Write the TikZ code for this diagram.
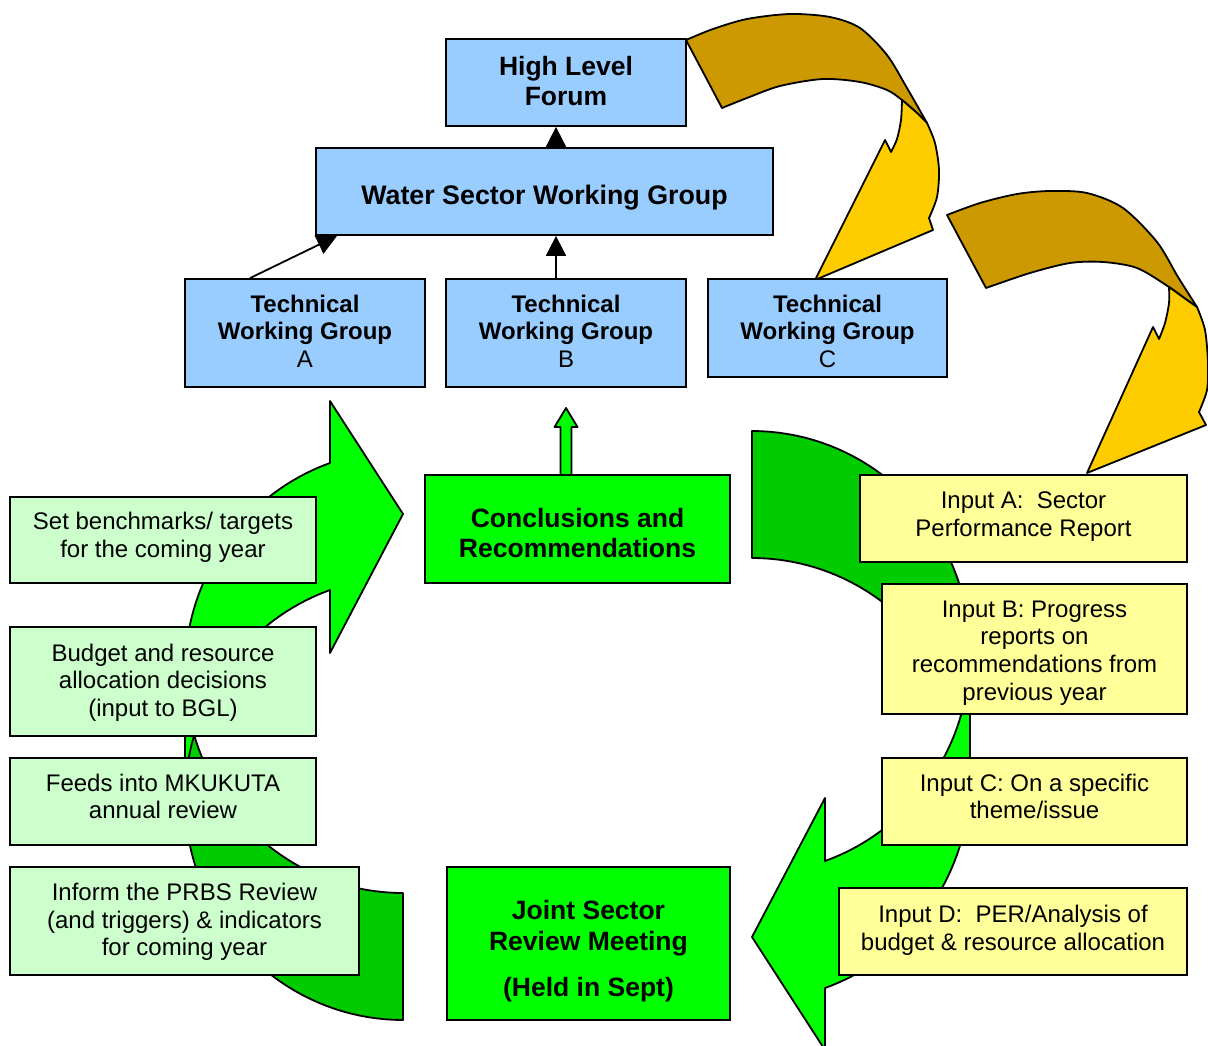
\documentclass[tikz,border=0pt]{standalone}
\usepackage{fontspec}
\setmainfont{Liberation Sans}
\usetikzlibrary{arrows.meta,calc}
\definecolor{boxblue}{HTML}{99CCFF}
\definecolor{brightgreen}{HTML}{00FF00}
\definecolor{darkgreen}{HTML}{00CC00}
\definecolor{palegreen}{HTML}{CCFFCC}
\definecolor{paleyellow}{HTML}{FFFF99}
\definecolor{golddark}{HTML}{CC9900}
\definecolor{goldlight}{HTML}{FFCC00}
\tikzset{
  boxbase/.style={draw=black, line width=1.8pt, inner sep=0pt},
  bluebox/.style={boxbase, fill=boxblue},
  greenbox/.style={boxbase, fill=brightgreen},
  leftbox/.style={boxbase, fill=palegreen},
  inbox/.style={boxbase, fill=paleyellow},
  txt/.style={align=center, inner sep=0pt, text=black, font=\fontsize{24}{27.6}\selectfont},
  bigtxt/.style={align=center, inner sep=0pt, text=black, font=\fontsize{26.5}{30}\selectfont\bfseries},
  twgtxt/.style={align=center, inner sep=0pt, text=black, font=\fontsize{24}{27.5}\selectfont},
  conn/.style={draw=black, line width=1.8pt, -{Triangle[width=20pt,length=20pt]}},
  outl/.style={draw=black, line width=1.8pt, line join=round},
}
\newcommand\curvedgreen{%
  \fill[brightgreen] (185,798.6)
    -- plot[domain=180:250.43,samples=40] ({403+218*cos(\x)},{798.6+221.4*sin(\x)})
    -- (330,653) -- (403,514) -- (330,401) -- (330,463)
    -- plot[domain=250.43:180,samples=40] ({403+218*cos(\x)},{671.6+221.4*sin(\x)})
    -- cycle;
  \fill[darkgreen] (403,893)
    -- plot[domain=90:163.33,samples=40] ({403+218*cos(\x)},{671.6+221.4*sin(\x)})
    -- plot[domain=196.67:90,samples=50] ({403+218*cos(\x)},{798.6+221.4*sin(\x)})
    -- cycle;
  \draw[outl] (185,798.6)
    -- plot[domain=180:250.43,samples=40] ({403+218*cos(\x)},{798.6+221.4*sin(\x)})
    -- (330,653) -- (403,514) -- (330,401) -- (330,463)
    -- plot[domain=250.43:180,samples=40] ({403+218*cos(\x)},{671.6+221.4*sin(\x)})
    -- (185,798.6)
    -- plot[domain=180:90,samples=40] ({403+218*cos(\x)},{798.6+221.4*sin(\x)})
    -- (403,893)
    -- plot[domain=90:163.33,samples=40] ({403+218*cos(\x)},{671.6+221.4*sin(\x)});
}
\begin{document}
\begin{tikzpicture}[x=1pt,y=-1pt]
\useasboundingbox (0,0) rectangle (1208,1046);
\fill[white] (0,0) rectangle (1208,1046);

% big green curved arrows
\curvedgreen
\begin{scope}[rotate around={180:(577.5,725.5)}]
\curvedgreen
\end{scope}

% gold arrow 1
\filldraw[fill=golddark, outl] plot[smooth] coordinates {(686,40) (713,29) (747,19) (790,14) (830,17) (860,28) (887,55) (907,88) (927,123)}
  -- plot[smooth] coordinates {(927,123) (917,113) (902,100) (887,90) (860,82) (823,79) (780,86) (747,98) (722,108)} -- cycle;
\filldraw[fill=goldlight, outl] plot[smooth] coordinates {(902,100) (917,113) (927,123)}
  -- plot[smooth] coordinates {(927,123) (935,143) (939,170) (937,197) (929,218)}
  -- (933,230) -- (815,280) -- (885,140) -- (891,152)
  -- plot[smooth] coordinates {(891,152) (897,139) (901,120) (902,100)} -- cycle;

% gold arrow 2
\filldraw[fill=golddark, outl] plot[smooth] coordinates {(947,215) (980,203) (1017,194) (1050,191) (1087,193) (1123,208) (1157,242) (1178,277) (1197,307)}
  -- plot[smooth] coordinates {(1197,307) (1187,300) (1169,287) (1137,268) (1103,262) (1070,263) (1030,273) (986,288)} -- cycle;
\filldraw[fill=goldlight, outl] plot[smooth] coordinates {(1169,287) (1187,300) (1197,307)}
  -- plot[smooth] coordinates {(1197,307) (1205,330) (1208,363) (1207,390) (1199,412)}
  -- (1206,425) -- (1087,473) -- (1153,327) -- (1159,339)
  -- plot[smooth] coordinates {(1159,339) (1165,323) (1169,303) (1169,287)} -- cycle;

% top hierarchy
\node[bluebox, minimum width=240pt, minimum height=87pt] (hlf) at (566,82.5) {};
\node[bigtxt] (hlft) at ([yshift=1pt]hlf.center) {High Level\\Forum};
\node[bluebox, minimum width=457pt, minimum height=87pt] (wswg) at (544.5,191.5) {};
\node[bigtxt, font=\fontsize{26.8}{30}\selectfont\bfseries] (wswgt) at ([yshift=-6pt]wswg.center) {Water Sector Working Group};
\node[bluebox, minimum width=240pt, minimum height=108pt] (twga) at (305,333) {};
\node[twgtxt] (twgat) at ([yshift=2pt]twga.center) {\textbf{Technical}\\\textbf{Working Group}\\A};
\node[bluebox, minimum width=240pt, minimum height=108pt] (twgb) at (566,333) {};
\node[twgtxt] (twgbt) at ([yshift=2pt]twgb.center) {\textbf{Technical}\\\textbf{Working Group}\\B};
\node[bluebox, minimum width=239pt, minimum height=98pt] (twgc) at (827.5,328) {};
\node[twgtxt] (twgct) at ([yshift=-3pt]twgc.center) {\textbf{Technical}\\\textbf{Working Group}\\C};

\coordinate (bx) at ([xshift=-10pt]twgb.north);
\draw[conn] (bx |- wswg.north) -- (bx |- hlf.south);
\draw[conn] (bx) -- (bx |- wswg.south);
\draw[conn] ([xshift=-55pt]twga.north) -- ([xshift=-207.5pt]wswg.south);

% conclusions
\coordinate (cb) at (twgb.south |- 0,475);
\filldraw[fill=brightgreen, outl] ([xshift=-5.5pt]cb) -- ++(0,-48) -- ++(-6,0) -- ++(11.5,-19) -- ++(11.5,19) -- ++(-6,0) -- ++(0,48) -- cycle;
\node[greenbox, minimum width=305pt, minimum height=108pt] (concl) at (577.5,529) {};
\node[bigtxt] (conclt) at ([yshift=-4pt]concl.center) {Conclusions and\\Recommendations};

% joint sector review
\node[greenbox, minimum width=283pt, minimum height=153pt] (jsr) at (588.5,943.5) {};
\node[bigtxt, font=\fontsize{26.5}{31}\selectfont\bfseries] (jsrt) at ([yshift=-8pt]jsr.center) {Joint Sector\\Review Meeting\\[15pt](Held in Sept)};

% left boxes
\node[leftbox, minimum width=306pt, minimum height=86pt] (setb) at (163,540) {};
\node[txt] (setbt) at ([yshift=2.5pt]setb.center) {Set benchmarks/ targets\\for the coming year};
\node[leftbox, minimum width=306pt, minimum height=109pt] (budg) at (163,681.5) {};
\node[txt] (budgt) at ([yshift=-1pt]budg.center) {Budget and resource\\allocation decisions\\(input to BGL)};
\node[leftbox, minimum width=306pt, minimum height=87pt] (feed) at (163,801.5) {};
\node[txt] (feedt) at ([yshift=5pt]feed.center) {Feeds into MKUKUTA\\annual review};
\node[leftbox, minimum width=349pt, minimum height=108pt] (info) at (184.5,921) {};
\node[txt] (infot) at ([yshift=-1pt]info.center) {Inform the PRBS Review\\(and triggers) \& indicators\\for coming year};

% right boxes
\node[inbox, minimum width=327pt, minimum height=87pt] (ina) at (1023.5,518.5) {};
\node[txt] (inat) at ([yshift=2pt]ina.center) {Input A:\ \ Sector\\Performance Report};
\node[inbox, minimum width=305pt, minimum height=130pt] (inb) at (1034.5,649) {};
\node[txt] (inbt) at ([yshift=-4pt]inb.center) {Input B: Progress\\reports on\\recommendations from\\previous year};
\node[inbox, minimum width=305pt, minimum height=87pt] (inc) at (1034.5,801.5) {};
\node[txt] (inct) at ([yshift=5pt]inc.center) {Input C: On a specific\\theme/issue};
\node[inbox, minimum width=348pt, minimum height=87pt] (ind) at (1013,931.5) {};
\node[txt] (indt) at ([yshift=1pt]ind.center) {Input D:\ \ PER/Analysis of\\budget \& resource allocation};
\end{tikzpicture}
\end{document}
